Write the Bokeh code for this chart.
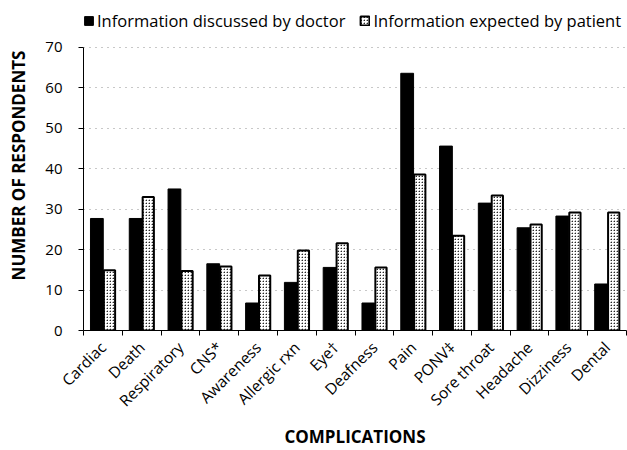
from math import pi
from bokeh.plotting import figure
from bokeh.models import ColumnDataSource, FixedTicker, Legend, LegendItem, Range1d
from bokeh.transform import dodge
from bokeh.embed import file_html
from bokeh.resources import INLINE

categories = ["Cardiac", "Death", "Respiratory", "CNS*", "Awareness", "Allergic rxn",
              "Eye\u2020", "Deafness", "Pain", "PONV\u2021", "Sore throat", "Headache",
              "Dizziness", "Dental"]
doctor = [27.7, 27.7, 35.0, 16.5, 6.8, 11.9, 15.6, 6.8, 63.6, 45.6, 31.5, 25.4, 28.3, 11.5]
patient = [14.9, 33.0, 14.7, 15.8, 13.6, 19.8, 21.6, 15.6, 38.6, 23.4, 33.4, 26.2, 29.2, 29.2]
y_ticks = [0, 10, 20, 30, 40, 50, 60, 70]

FONT = "Open Sans"

xs = list(range(len(categories)))
src = ColumnDataSource(dict(x=xs, doctor=doctor, patient=patient))

p = figure(width=627, height=450, output_backend="svg", toolbar_location=None,
           x_range=Range1d(-0.5, len(categories) - 0.5), y_range=Range1d(0, 81.6))
p.outline_line_color = None
p.min_border_left = 83
p.min_border_right = 1
p.min_border_top = 0
p.min_border_bottom = 120

r1 = p.vbar(x=dodge("x", -0.155, range=p.x_range), top="doctor", width=0.33, bottom=0,
            source=src, fill_color="black", line_color="black")
r2 = p.vbar(x=dodge("x", 0.17, range=p.x_range), top="patient", width=0.29, bottom=0,
            source=src, fill_color="white", line_color="black", line_width=2,
            hatch_pattern="right_diagonal_dash", hatch_color="#222222", hatch_scale=3,
            hatch_weight=1.2)

legend = Legend(items=[LegendItem(label="Information discussed by doctor", renderers=[r1]),
                       LegendItem(label="Information expected by patient", renderers=[r2])],
                orientation="horizontal", location=(0, 298),
                label_text_font=FONT, label_text_font_size="16.5px", label_text_color="black",
                glyph_width=11, glyph_height=11, spacing=14, padding=2, margin=0,
                border_line_color=None, background_fill_alpha=0, label_standoff=3)
p.add_layout(legend)

p.xaxis.ticker = FixedTicker(ticks=xs, minor_ticks=[i - 0.5 for i in range(len(categories) + 1)])
p.xaxis.major_label_overrides = {i: c for i, c in enumerate(categories)}
p.xaxis.major_label_orientation = pi / 4
p.xaxis.major_label_standoff = 8
p.xaxis.major_tick_line_color = None
p.xaxis.minor_tick_in = 0
p.xaxis.minor_tick_out = 5
p.xaxis.minor_tick_line_color = "black"
p.xaxis.axis_label = "COMPLICATIONS"
p.xaxis.axis_label_standoff = 3
p.xaxis.major_label_text_font_size = "15.5px"

p.yaxis.ticker = FixedTicker(ticks=y_ticks)
p.yaxis.bounds = (0, 70)
p.yaxis.minor_tick_line_color = None
p.yaxis.major_tick_in = 0
p.yaxis.major_tick_out = 5
p.yaxis.major_tick_line_color = "black"
p.yaxis.major_label_standoff = 16
p.yaxis.axis_label = "NUMBER OF RESPONDENTS"
p.yaxis.axis_label_standoff = 12
p.yaxis.major_label_text_font_size = "15px"

for ax in (p.xaxis, p.yaxis):
    ax.major_label_text_font = FONT
    ax.major_label_text_color = "black"
    ax.axis_label_text_font = FONT
    ax.axis_label_text_font_size = "17px"
    ax.axis_label_text_font_style = "bold"
    ax.axis_label_text_color = "black"
    ax.axis_line_color = "black"

p.xgrid.grid_line_color = None
p.ygrid.grid_line_color = "#777777"
p.ygrid.grid_line_dash = "1 5"
p.ygrid.grid_line_alpha = 0.8

open("out.html", "w").write(file_html(p, INLINE))
